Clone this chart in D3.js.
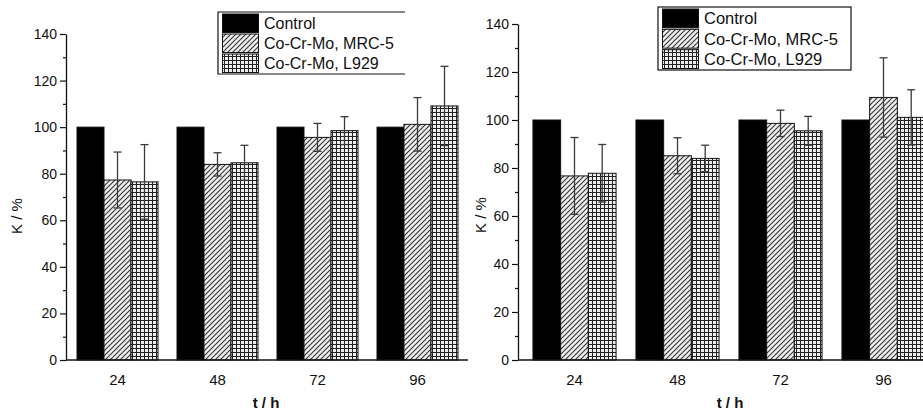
<!DOCTYPE html>
<html>
<head>
<meta charset="utf-8">
<script src="https://cdn.jsdelivr.net/npm/d3@7"></script>
<style>
  html, body { margin: 0; padding: 0; background: #fff; }
  svg { display: block; font-family: "Liberation Sans", Arial, sans-serif; }
</style>
</head>
<body>
<div id="chart"></div>
<script>
const W = 923, H = 414;

// data
const categories = ["24", "48", "72", "96"];
const seriesNames = ["Control", "Co-Cr-Mo, MRC-5", "Co-Cr-Mo, L929"];
const yTicks = [0, 20, 40, 60, 80, 100, 120, 140];

const controlValues = [100, 100, 100, 100];

// left panel
const leftMRC = [77.3, 84.0, 95.6, 101.2];
const leftMRCErr = [12, 5, 6, 11.5];
const leftL929 = [76.5, 84.7, 98.5, 109.1];
const leftL929Err = [16, 7.5, 6, 17];

// right panel
const rightMRC = [76.7, 85.1, 98.6, 109.4];
const rightMRCErr = [16, 7.5, 5.5, 16.5];
const rightL929 = [77.8, 84.0, 95.5, 101.1];
const rightL929Err = [12, 5.5, 6, 11.5];

const INK = "#111";
const ERR = "#3a3a3a";

const svg = d3.select("#chart").append("svg")
  .attr("width", W).attr("height", H);

// fill patterns
const defs = svg.append("defs");
const hatch = defs.append("pattern").attr("id", "hatch")
  .attr("patternUnits", "userSpaceOnUse").attr("width", 5).attr("height", 5);
hatch.append("rect").attr("width", 5).attr("height", 5).attr("fill", "#f0f0f0");
hatch.append("path").attr("d", "M-1,1 l2,-2 M0,5 l5,-5 M4,6 l2,-2")
  .attr("stroke", "#333").attr("stroke-width", 1.1);

const grid = defs.append("pattern").attr("id", "grid")
  .attr("patternUnits", "userSpaceOnUse").attr("width", 4).attr("height", 4);
grid.append("rect").attr("width", 4).attr("height", 4).attr("fill", "#eee");
grid.append("path").attr("d", "M0.5,0 V4 M0,0.5 H4")
  .attr("stroke", "#222").attr("stroke-width", 1);

const fills = ["#000", "url(#hatch)", "url(#grid)"];

function drawPanel(p) {
  const g = svg.append("g");

  const y = d3.scaleLinear().domain([0, 140]).range([p.y0, p.yTop]);
  const x = d3.scalePoint().domain(categories).range(p.centers);
  const inner = d3.scaleBand().domain(seriesNames)
    .range([-1.5 * p.barW, 1.5 * p.barW]);

  const series = [
    { name: seriesNames[0], values: controlValues, errs: null },
    { name: seriesNames[1], values: p.mrc, errs: p.mrcErr },
    { name: seriesNames[2], values: p.l929, errs: p.l929Err }
  ];

  // bars
  series.forEach((s, si) => {
    g.append("g").selectAll("rect")
      .data(s.values)
      .join("rect")
      .attr("x", (d, i) => x(categories[i]) + inner(s.name))
      .attr("y", d => y(d))
      .attr("width", inner.bandwidth())
      .attr("height", d => y(0) - y(d))
      .attr("fill", fills[si])
      .attr("stroke", "#111")
      .attr("stroke-width", 1);
  });

  // error bars
  series.forEach(s => {
    if (!s.errs) return;
    const eg = g.append("g").attr("stroke", ERR).attr("stroke-width", 1.3);
    s.values.forEach((v, i) => {
      const cx = x(categories[i]) + inner(s.name) + inner.bandwidth() / 2;
      const hi = y(v + s.errs[i]), lo = y(v - s.errs[i]);
      eg.append("line").attr("x1", cx).attr("x2", cx).attr("y1", hi).attr("y2", lo);
      eg.append("line").attr("x1", cx - 4).attr("x2", cx + 4).attr("y1", hi).attr("y2", hi);
      eg.append("line").attr("x1", cx - 4).attr("x2", cx + 4).attr("y1", lo).attr("y2", lo);
    });
  });

  // y axis with minor ticks
  const yAxis = g.append("g").attr("transform", `translate(${p.axisX},0)`);
  yAxis.call(d3.axisLeft(y).tickValues(d3.range(10, 140, 20)).tickSize(3).tickFormat(""))
    .call(a => a.select(".domain").remove());
  const yMajor = g.append("g").attr("transform", `translate(${p.axisX},0)`)
    .call(d3.axisLeft(y).tickValues(yTicks).tickSize(6).tickPadding(3).tickSizeOuter(0));
  g.selectAll(".tick line").attr("stroke", INK).attr("stroke-width", 1.2);
  yMajor.select(".domain").attr("stroke", INK).attr("stroke-width", 1.3);
  yMajor.selectAll("text").attr("font-size", 14).attr("fill", INK)
    .attr("font-family", "Liberation Sans, Arial, sans-serif");

  // x axis line and labels
  g.append("line")
    .attr("x1", p.axisX).attr("x2", p.xEnd)
    .attr("y1", y(0)).attr("y2", y(0))
    .attr("stroke", INK).attr("stroke-width", 1.3);
  g.append("g").selectAll("text")
    .data(categories)
    .join("text")
    .attr("x", d => x(d))
    .attr("y", p.y0 + 25)
    .attr("text-anchor", "middle")
    .attr("font-size", 15)
    .attr("fill", INK)
    .text(d => d);

  g.append("text")
    .attr("x", p.xLabelX).attr("y", 408)
    .attr("text-anchor", "middle")
    .attr("font-size", 15).attr("font-weight", "bold")
    .attr("fill", INK)
    .text("t / h");

  g.append("text")
    .attr("transform", `translate(${p.yLabelX},${p.yLabelY}) rotate(-90)`)
    .attr("text-anchor", "middle")
    .attr("font-size", 15)
    .attr("fill", INK)
    .text("K / %");

  // legend
  const L = p.legend;
  const lg = g.append("g");
  if (L.full) {
    lg.append("rect").attr("x", L.x).attr("y", L.y).attr("width", L.w).attr("height", L.h)
      .attr("fill", "#fff").attr("stroke", INK).attr("stroke-width", 1.2);
  } else {
    lg.append("path")
      .attr("d", `M${L.x + L.w},${L.y} H${L.x} V${L.y + L.h} H${L.x + L.w}`)
      .attr("fill", "none").attr("stroke", INK).attr("stroke-width", 1.2);
  }
  const rowH = (L.h - 2) / 3;
  seriesNames.forEach((name, i) => {
    const ry = L.y + 1.5 + i * rowH;
    lg.append("rect")
      .attr("x", L.x + 4.5).attr("y", ry + 0.5)
      .attr("width", 36).attr("height", rowH - 1.5)
      .attr("fill", fills[i]).attr("stroke", "#111").attr("stroke-width", 1);
    lg.append("text")
      .attr("x", L.x + 46).attr("y", ry + rowH / 2 + 5.5)
      .attr("font-size", L.fs).attr("fill", INK)
      .text(name);
  });
}

drawPanel({
  axisX: 66, xEnd: 468, y0: 360, yTop: 34,
  centers: [117.5, 417.5], barW: 27,
  mrc: leftMRC, mrcErr: leftMRCErr, l929: leftL929, l929Err: leftL929Err,
  xLabelX: 266, yLabelX: 22, yLabelY: 216,
  legend: { x: 218, y: 12, w: 187, h: 62, full: false, fs: 16 }
});

drawPanel({
  axisX: 518, xEnd: 923, y0: 360, yTop: 24,
  centers: [574.5, 883.5], barW: 27.7,
  mrc: rightMRC, mrcErr: rightMRCErr, l929: rightL929, l929Err: rightL929Err,
  xLabelX: 730, yLabelX: 486, yLabelY: 215,
  legend: { x: 658, y: 7, w: 193, h: 63, full: true, fs: 16.5 }
});
</script>
</body>
</html>
